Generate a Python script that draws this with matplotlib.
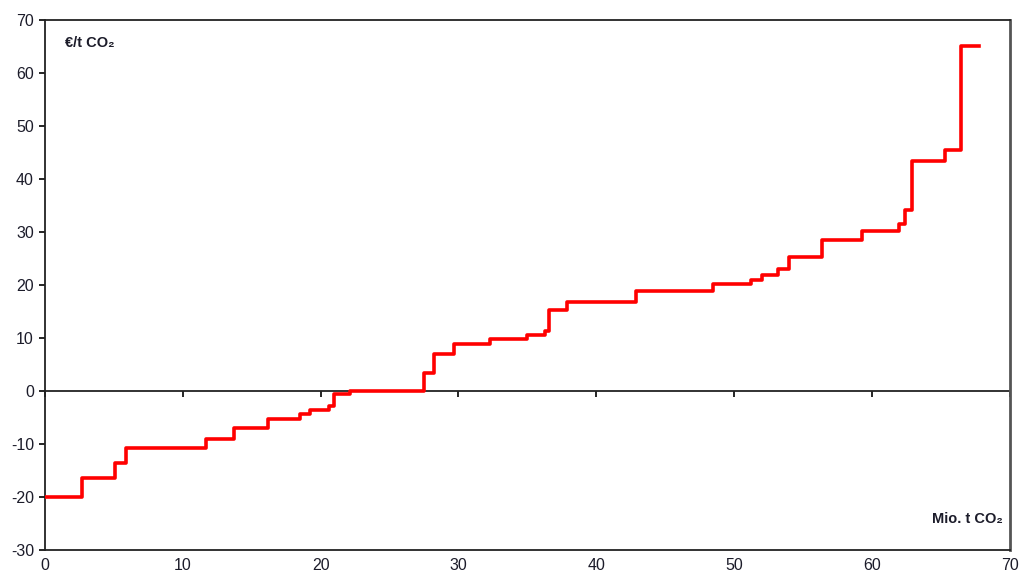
import matplotlib
matplotlib.use("Agg")
import matplotlib.pyplot as plt
import numpy as np

plt.rcParams['font.family'] = ['Liberation Sans', 'DejaVu Sans']
plt.rcParams['axes.unicode_minus'] = False

# step edges (Mio. t CO2) and cost levels (EUR/t CO2)
edges = [0, 2.7, 5.1, 5.9, 11.7, 13.7, 16.2, 18.5, 19.2, 20.6, 21.0, 22.1,
         27.5, 28.25, 29.7, 32.3, 35.0, 36.3, 36.6, 37.9, 42.9, 48.5, 51.2,
         52.05, 53.2, 54.0, 56.4, 59.3, 62.0, 62.4, 62.9, 65.3, 66.5, 67.8]
costs = [-20, -16.4, -13.6, -10.7, -9.0, -7.0, -5.25, -4.4, -3.6, -2.8, -0.5, 0,
         3.4, 6.9, 8.8, 9.75, 10.6, 11.3, 15.2, 16.75, 18.8, 20.2, 21.0, 21.9,
         23.0, 25.2, 28.5, 30.2, 31.5, 34.1, 43.5, 45.5, 65.1]

xticks = list(range(0, 71, 10))
yticks = list(range(-30, 71, 10))

fig = plt.figure(figsize=(10.24, 5.81), dpi=100)
ax = fig.add_axes([0.044, 0.0534, 0.942, 0.912])

x = np.array(edges)
y = np.append(costs, costs[-1])
ax.step(x, y, where='post', color='#ff0000', lw=2.6, zorder=3)

ax.axhline(0, color='#222222', lw=1.3, zorder=2)

ax.set_xlim(0, 70)
ax.set_ylim(-30, 70)
ax.set_xticks(xticks)
ax.set_yticks(yticks)
ax.tick_params(axis='x', length=0, pad=6, labelsize=11.5, labelcolor='#1c1c2a')
ax.tick_params(axis='y', length=4, width=1.2, direction='out', pad=4,
               labelsize=11.5, labelcolor='#1c1c2a')

# ticks sitting on the zero line
sec = ax.secondary_xaxis(0.3)
sec.set_xticks(xticks)
sec.tick_params(length=4, width=1.2, direction='out', labelbottom=False)
sec.spines['bottom'].set_visible(False)

for s in ['left', 'bottom', 'top']:
    ax.spines[s].set_color('#222222')
    ax.spines[s].set_linewidth(1.3)
ax.spines['right'].set_color('#555555')
ax.spines['right'].set_linewidth(2.0)

ax.text(0.021, 0.957, '€/t CO₂', transform=ax.transAxes, fontsize=10.5,
        fontweight='bold', color='#1c1c2a', va='center', ha='left')
ax.text(0.993, 0.058, 'Mio. t CO₂', transform=ax.transAxes, fontsize=10.5,
        fontweight='bold', color='#1c1c2a', va='center', ha='right')

fig.savefig('out.png', dpi=100)
